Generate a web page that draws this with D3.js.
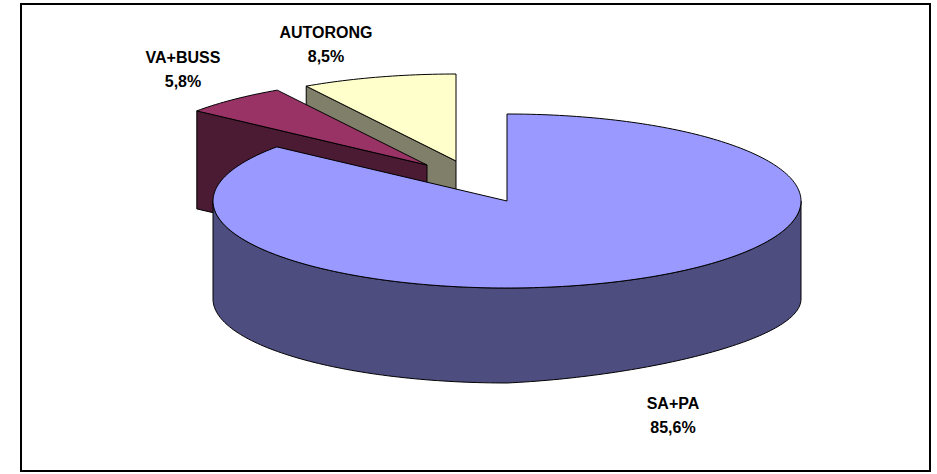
<!DOCTYPE html>
<html>
<head>
<meta charset="utf-8">
<script src="https://cdn.jsdelivr.net/npm/d3@7"></script>
<style>
  body { margin: 0; background: #fff; }
  svg text { font-family: "Liberation Sans", Arial, sans-serif; font-weight: bold; font-size: 16px; fill: #000; }
</style>
</head>
<body>
<div id="vis"></div>
<script>
const FRAME_WIDTH = 937;
const FRAME_HEIGHT = 474;

// data
const categories = ["SA+PA", "VA+BUSS", "AUTORONG"];
const shares = [85.6, 5.8, 8.5];
const pctLabels = ["85,6%", "5,8%", "8,5%"];

// look of the pie
const topColors = ["#9999ff", "#993366", "#ffffcc"];
const sideColors = ["#4d4d80", "#4b1a33", "#80806a"];
const CENTER = {x: 507, y: 201};
const RX = 294, RY = 87, DEPTH = 98;
const RY_BOTTOM = 84;   // bottom rim is a bit flatter (excel perspective)
// explode offsets per slice (screen px)
const EXPLODE = [{dx: 0, dy: 0}, {dx: -80, dy: -36}, {dx: -51, dy: -40}];
// label anchors (first line baseline)
const LABEL_POS = [{x: 673, y: 409}, {x: 183, y: 63}, {x: 326, y: 38}];

const svg = d3.select("#vis")
  .append("svg")
    .attr("width", FRAME_WIDTH)
    .attr("height", FRAME_HEIGHT);

svg.append("rect")
  .attr("x", 21).attr("y", 4)
  .attr("width", 909).attr("height", 467)
  .attr("fill", "#fff")
  .attr("stroke", "#000")
  .attr("stroke-width", 2);

const pie = d3.pie().sort(null).value(d => d);
const arcs = pie(shares).map((a, i) => ({...a, i: i}));

const line = d3.line();

function pt(a, cx, cy) {
  return [cx + RX * Math.sin(a), cy - RY * Math.cos(a)];
}

// point on the bottom rim, right side squashed a little
function ptBottom(a, cx, cy) {
  const ry = RY_BOTTOM * (1 - 0.17 * Math.max(0, Math.sin(a)));
  return [cx + RX * Math.sin(a), cy + DEPTH - ry * Math.cos(a)];
}

function arcPoints(a0, a1, f) {
  const n = Math.max(2, Math.ceil(Math.abs(a1 - a0) / 0.02));
  return d3.range(n + 1).map(k => f(a0 + (a1 - a0) * k / n));
}

function drawSlice(d) {
  const cx = CENTER.x + EXPLODE[d.i].dx;
  const cy = CENTER.y + EXPLODE[d.i].dy;
  const g = svg.append("g").attr("class", "slice");

  // outer wall, front half only
  const w0 = Math.max(d.startAngle, Math.PI / 2);
  const w1 = Math.min(d.endAngle, 3 * Math.PI / 2);
  if (w1 > w0) {
    const topArc = arcPoints(w0, w1, a => pt(a, cx, cy));
    const botArc = arcPoints(w1, w0, a => ptBottom(a, cx, cy));
    g.append("path")
      .attr("d", line(topArc.concat(botArc)) + "Z")
      .attr("fill", sideColors[d.i])
      .attr("stroke", "#000");
  }

  // radial cut faces facing the viewer
  const faces = [];
  if (Math.sin(d.startAngle) < -1e-6) faces.push(d.startAngle);
  if (Math.sin(d.endAngle) > 1e-6) faces.push(d.endAngle);
  faces.forEach(a => {
    const p = pt(a, cx, cy);
    g.append("path")
      .attr("d", line([[cx, cy], p, [p[0], p[1] + DEPTH], [cx, cy + DEPTH]]) + "Z")
      .attr("fill", sideColors[d.i])
      .attr("stroke", "#000");
  });

  // top face
  const top = [[cx, cy]].concat(arcPoints(d.startAngle, d.endAngle, a => pt(a, cx, cy)));
  g.append("path")
    .attr("d", line(top) + "Z")
    .attr("fill", topColors[d.i])
    .attr("stroke", "#000");
}

// back to front: AUTORONG, VA+BUSS, SA+PA
[2, 1, 0].forEach(i => drawSlice(arcs[i]));

// labels
const labels = svg.selectAll(".label")
  .data(arcs)
  .enter()
  .append("text")
    .attr("class", "label")
    .attr("text-anchor", "middle")
    .attr("x", d => LABEL_POS[d.i].x)
    .attr("y", d => LABEL_POS[d.i].y);

labels.append("tspan")
  .attr("x", d => LABEL_POS[d.i].x)
  .text(d => categories[d.i]);

labels.append("tspan")
  .attr("x", d => LABEL_POS[d.i].x)
  .attr("dy", 24)
  .text(d => pctLabels[d.i]);
</script>
</body>
</html>
